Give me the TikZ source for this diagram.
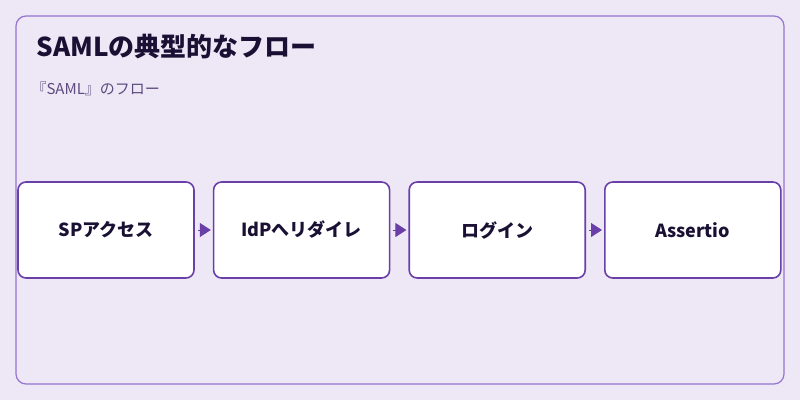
\documentclass[tikz,border=0pt]{standalone}
\usepackage{fontspec}
\setmainfont{Noto Sans CJK JP}
\usetikzlibrary{positioning, arrows.meta}
\definecolor{bgcolor}{HTML}{EDE7F6}
\definecolor{framecolor}{HTML}{9575CD}
\definecolor{boxcolor}{HTML}{6A3FA8}
\definecolor{titlecolor}{HTML}{1A1033}
\definecolor{subcolor}{HTML}{5E4B7D}
\tikzset{stepbox/.style={rectangle, rounded corners=8pt, draw=boxcolor, fill=white,
                         line width=1.6pt, minimum width=176pt, minimum height=96pt,
                         text=titlecolor, font=\bfseries\fontsize{18}{20}\selectfont},
         flow/.style={draw=boxcolor, line width=1pt, shorten <=3pt, shorten >=2pt,
                      -{Triangle[length=11pt,width=14pt]}}}

\begin{document}
\begin{tikzpicture}[x=1pt, y=-1pt, node distance=18pt]
    \fill [bgcolor] (0,0) rectangle (800,400);
    \draw [framecolor, line width=1.2pt, rounded corners=10pt] (16,16) rectangle (784,384);
    \useasboundingbox (0,0) rectangle (800,400);

    %Title
    \node (title) [anchor=west, text=titlecolor, font=\bfseries\fontsize{26}{30}\selectfont] at (33,47) {SAMLの典型的なフロー};
    \node (subtitle) [anchor=west, text=subcolor, font=\fontsize{15}{18}\selectfont] at (28,89) {『SAML』のフロー};

    %Steps
    \node (sp) [stepbox] at (106,230) {SPアクセス};
    \node (idp) [stepbox, right=of sp] {IdPへリダイレ};
    \node (login) [stepbox, right=of idp] {ログイン};
    \node (assert) [stepbox, right=of login] {Assertio};

    %Arrows
    \draw [flow] (sp) -- (idp);
    \draw [flow] (idp) -- (login);
    \draw [flow] (login) -- (assert);
\end{tikzpicture}
\end{document}
